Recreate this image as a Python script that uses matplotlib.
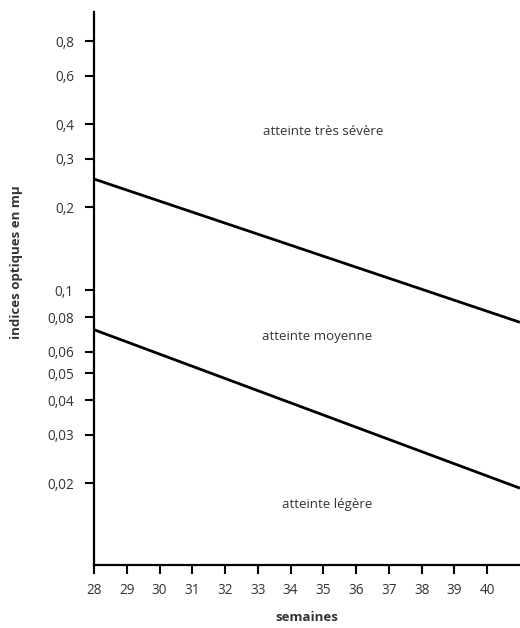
import numpy as np
import matplotlib.pyplot as plt
from matplotlib.ticker import FixedLocator, NullLocator

plt.rcParams['font.family'] = ['Open Sans', 'DejaVu Sans']

# data
weeks = [28, 41]
upper_line = [0.253, 0.0766]   # limit between moyenne / très sévère
lower_line = [0.072, 0.0192]   # limit between légère / moyenne

y_ticks = [0.02, 0.03, 0.04, 0.05, 0.06, 0.08, 0.1, 0.2, 0.3, 0.4, 0.6, 0.8]
y_tick_labels = ["0,02", "0,03", "0,04", "0,05", "0,06", "0,08",
                 "0,1", "0,2", "0,3", "0,4", "0,6", "0,8"]
x_ticks = list(range(28, 41))

zone_labels = ["atteinte très sévère", "atteinte moyenne", "atteinte légère"]
zone_pos = [(35.0, 0.375), (34.8, 0.068), (35.1, 0.0167)]

txt = "#333333"

fig = plt.figure(figsize=(5.2, 6.28), dpi=100)
ax = fig.add_axes([0.181, 0.100, 0.819, 0.881])

ax.plot(weeks, upper_line, color="black", lw=2.0, solid_capstyle="butt")
ax.plot(weeks, lower_line, color="black", lw=2.0, solid_capstyle="butt")

ax.set_yscale("log")
ax.set_xlim(28, 41)
ax.set_ylim(0.0101, 1.02)

ax.yaxis.set_major_locator(FixedLocator(y_ticks))
ax.set_yticklabels(y_tick_labels)
ax.yaxis.set_minor_locator(NullLocator())
ax.set_xticks(x_ticks)
ax.set_xticklabels([str(w) for w in x_ticks])

for s in ["top", "right"]:
    ax.spines[s].set_visible(False)
for s in ["left", "bottom"]:
    ax.spines[s].set_linewidth(1.6)

ax.tick_params(axis="both", which="major", direction="out", length=6.5,
               width=1.5, labelsize=9.8, labelcolor=txt)
ax.tick_params(axis="y", pad=8)
ax.tick_params(axis="x", pad=6)

for label, (x, y) in zip(zone_labels, zone_pos):
    ax.text(x, y, label, ha="center", va="center", fontsize=9.5, color=txt)

ax.set_ylabel("indices optiques en mµ", fontsize=9.5, fontweight="bold",
              color=txt)
ax.yaxis.set_label_coords(-0.168, 0.548)
ax.set_xlabel("semaines", fontsize=9.5, fontweight="bold", color=txt,
              labelpad=10)

fig.savefig("out.png", dpi=100)
